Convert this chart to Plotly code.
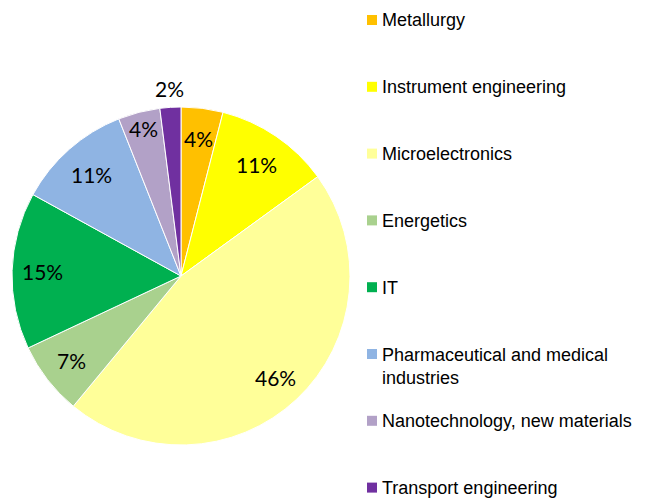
import math
import plotly.graph_objects as go

categories = ["Metallurgy", "Instrument engineering", "Microelectronics", "Energetics", "IT",
              "Pharmaceutical and medical industries", "Nanotechnology, new materials",
              "Transport engineering"]
legend_labels = ["Metallurgy", "Instrument engineering", "Microelectronics", "Energetics", "IT",
                 "Pharmaceutical and medical<br>industries", "Nanotechnology, new materials",
                 "Transport engineering"]
values = [4, 11, 46, 7, 15, 11, 4, 2]
colors = ["#FFC000", "#FFFF00", "#FFFF99", "#A9D18E", "#00B050", "#8FB4E3", "#B2A1C7", "#7030A0"]
label_radius = [0.82, 0.80, 0.82, 0.82, 0.82, 0.80, 0.90, 1.11]  # fraction of pie radius

W, H = 648, 498
cx, cy, R = 181, 276, 169  # pie centre / radius in pixels
fig = go.Figure()
fig.add_trace(go.Pie(
    labels=categories, values=values, sort=False, direction="clockwise", rotation=0,
    marker=dict(colors=colors, line=dict(color="white", width=1)),
    textinfo="none",
    domain=dict(x=[(cx - R) / W, (cx + R) / W], y=[1 - (cy + R) / H, 1 - (cy - R) / H]),
    showlegend=False, hoverinfo="label+percent",
))

# percentage labels placed at each slice's mid-angle (derived from the values)
total = sum(values)
cum = 0
for v, rf in zip(values, label_radius):
    mid = (cum + v / 2) / total * 2 * math.pi
    cum += v
    px = cx + rf * R * math.sin(mid)
    py = cy - rf * R * math.cos(mid)
    fig.add_annotation(xref="paper", yref="paper", x=px / W, y=1 - py / H,
                       xanchor="center", yanchor="middle", showarrow=False,
                       text=f"{round(v / total * 100)}%",
                       font=dict(family="Lato", size=21, color="black"))

# legend drawn as shapes + annotations
x_sq0, x_sq1, x_txt = 367, 377, 380
for i, (lab, col) in enumerate(zip(legend_labels, colors)):
    yc = 20 + i * 66.8
    fig.add_shape(type="rect", xref="paper", yref="paper",
                  x0=x_sq0 / W, x1=x_sq1 / W, y0=1 - (yc + 5) / H, y1=1 - (yc - 5) / H,
                  fillcolor=col, line=dict(width=0))
    fig.add_annotation(xref="paper", yref="paper", x=x_txt / W, y=1 - (yc - 11.5) / H,
                       xanchor="left", yanchor="top", align="left", showarrow=False,
                       text=lab, font=dict(family="Liberation Sans", size=18, color="black"))

fig.update_layout(width=W, height=H, margin=dict(l=0, r=0, t=0, b=0),
                  paper_bgcolor="white", plot_bgcolor="white")
fig.write_html("out.html", config={"displayModeBar": False},
               post_script="document.body.style.margin='0';")
